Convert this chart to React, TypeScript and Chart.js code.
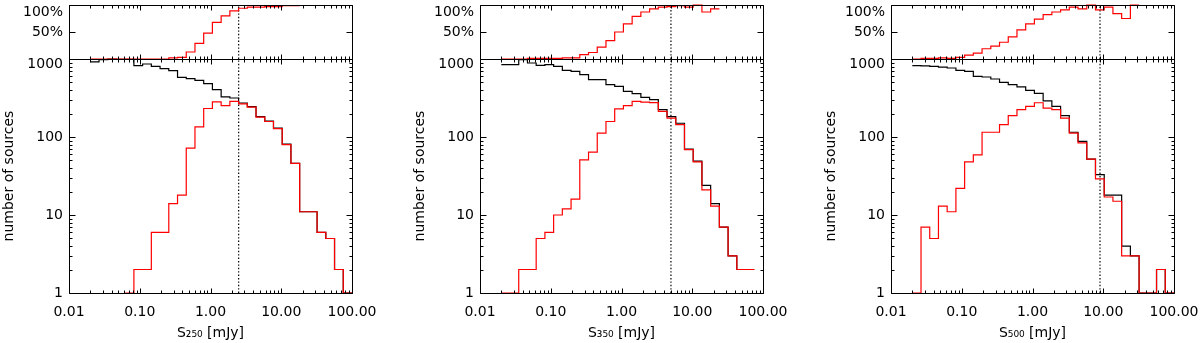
import React, { useEffect, useRef } from 'react';
import { Chart, registerables } from 'chart.js';

Chart.register(...registerables);

const FONT = "'DejaVu Sans', 'Noto Sans', sans-serif";
Chart.defaults.font.family = FONT;
Chart.defaults.color = '#000';

// 30 logarithmic flux bins from 0.02 to 100 mJy (edges)
const BIN_EDGES = [
  0.02, 0.02656, 0.03528, 0.04686, 0.06224, 0.08267, 0.1098, 0.1458, 0.1937, 0.2573,
  0.342, 0.4542, 0.6032, 0.8012, 1.064, 1.414, 1.878, 2.495, 3.314, 4.401,
  5.848, 7.767, 10.32, 13.7, 18.2, 24.18, 32.11, 42.65, 56.65, 75.24, 100,
];

const X_TICKS = [0.01, 0.1, 1, 10, 100];
const Y_TICKS = [1, 10, 100, 1000];
const PCT_TICKS = [50, 100];

const BANDS = ['250', '350', '500'];
const X_TITLES = ['S\u2082\u2085\u2080 [mJy]', 'S\u2083\u2085\u2080 [mJy]', 'S\u2085\u2080\u2080 [mJy]'];
const CUTS = [2.5, 5.0, 9.0];

// 250 micron
const ALL_250 = [920, 980, 995, 990, 990, 821, 863, 804, 751, 708, 582, 559, 532, 482, 404, 326, 316, 273, 245, 183, 160, 130, 81, 46, 11, 11, 6, 5, 2, 1];
const DET_250 = [null, null, null, null, 1, 2, 2, 6, 6, 14, 18, 72, 135, 232, 282, 252, 286, 266, 242, 180, 158, 128, 80, 46, 11, 11, 6, 5, 2, 1];
const COMP_250 = [0, 0, 0, 0, 0, 0, 0, 0, 0, 2, 3, 13, 29, 48, 68, 80, 89, 94, 96, 96, 97, 97, 99, 99];

// 350 micron
const ALL_350 = [845, 845, 980, 889, 828, 845, 804, 715, 694, 629, 543, 543, 469, 446, 384, 359, 322, 301, 225, 182, 150, 70, 49, 24, 14, 7, 3, 2, 2];
const DET_350 = [1, 1, 2, 2, 5, 6, 10, 12, 16, 51, 64, 112, 158, 229, 252, 286, 280, 276, 213, 175, 144, 69, 48, 21, 13, 7, 3, 2, 2];
const COMP_350 = [0, 0, 0, 1, 1, 1, 1, 2, 2, 8, 12, 22, 34, 50, 65, 79, 87, 93, 96, 97, 99, 96, 100, 87, 93];

// 500 micron
const ALL_500 = [820, 815, 804, 789, 767, 714, 694, 598, 588, 554, 501, 469, 438, 396, 362, 290, 247, 188, 115, 88, 52, 33, 18, 18, 4, 3, 1, 1, 2, 1];
const DET_500 = [1, 7, 5, 13, 11, 22, 48, 59, 115, 115, 144, 188, 224, 247, 275, 235, 224, 175, 112, 84, 52, 29, 17, 15, 3, 3, 1, 1, 2, 1];
const COMP_500 = [0, 1, 1, 2, 1, 3, 7, 11, 19, 24, 31, 41, 54, 65, 74, 82, 87, 91, 96, 93, 100, 91, 96, 84, 75, 100];

const ALL = [ALL_250, ALL_350, ALL_500];
const DET = [DET_250, DET_350, DET_500];
const COMP = [COMP_250, COMP_350, COMP_500];

// layout (pixels)
const PLOT_LEFT = [69, 480, 891];
const PLOT_W = 283;
const AXIS_W = 69;
const RIGHT_PAD = 45;
const RED = '#ff0000';

type Pt = { x: number; y: number | null };

function stepPoints(counts: (number | null)[]): Pt[] {
  const pts: Pt[] = [];
  counts.forEach((c, i) => {
    pts.push({ x: BIN_EDGES[i], y: c });
    if (c !== null && (i === counts.length - 1 || counts[i + 1] === null)) {
      pts.push({ x: BIN_EDGES[i + 1], y: c });
    }
  });
  return pts;
}

function tickList(scale: any): { v: number; major: boolean }[] {
  if (scale.type === 'logarithmic') {
    const lo = Math.round(Math.log10(scale.min));
    const hi = Math.round(Math.log10(scale.max));
    const out: { v: number; major: boolean }[] = [];
    for (let e = lo; e < hi; e++) {
      for (let m = 1; m < 10; m++) out.push({ v: m * Math.pow(10, e), major: m === 1 });
    }
    out.push({ v: Math.pow(10, hi), major: true });
    return out;
  }
  return PCT_TICKS.map((v) => ({ v, major: true }));
}

const frameTicks = {
  id: 'frameTicks',
  afterDraw(chart: any) {
    const { ctx, chartArea: a, scales } = chart;
    const L = Math.round(a.left) + 0.5;
    const R = Math.round(a.right) + 0.5;
    const T = Math.round(a.top) + 0.5;
    const B = Math.round(a.bottom) + 0.5;
    ctx.save();
    ctx.strokeStyle = '#000';
    ctx.lineWidth = 1;
    ctx.beginPath();
    ctx.rect(L, T, R - L, B - T);
    for (const t of tickList(scales.x)) {
      const px = Math.round(scales.x.getPixelForValue(t.v)) + 0.5;
      if (px < L - 0.1 || px > R + 0.1) continue;
      const len = t.major ? 5 : 3;
      ctx.moveTo(px, B);
      ctx.lineTo(px, B - len);
      ctx.moveTo(px, T);
      ctx.lineTo(px, T + len);
    }
    for (const t of tickList(scales.y)) {
      const py = Math.round(scales.y.getPixelForValue(t.v)) + 0.5;
      if (py < T - 0.1 || py > B + 0.1) continue;
      const len = t.major ? 6 : 3;
      ctx.moveTo(L, py);
      ctx.lineTo(L + len, py);
      ctx.moveTo(R, py);
      ctx.lineTo(R - len, py);
    }
    ctx.stroke();
    ctx.restore();
  },
};

function dottedLine(x: number, y0: number, y1: number) {
  return {
    data: [
      { x, y: y0 },
      { x, y: y1 },
    ],
    borderColor: '#000',
    borderWidth: 1.2,
    borderDash: [1.4, 2],
    pointRadius: 0,
    clip: 4,
  };
}

function histDataset(counts: (number | null)[], color: string) {
  return {
    data: stepPoints(counts),
    borderColor: color,
    borderWidth: 1.2,
    stepped: 'before',
    pointRadius: 0,
    spanGaps: false,
    fill: false,
    clip: 4,
  };
}

function topConfig(i: number): any {
  return {
    type: 'line',
    data: {
      datasets: [histDataset(COMP[i], RED), dottedLine(CUTS[i], 0, 100)],
    },
    options: {
      responsive: false,
      animation: false,
      devicePixelRatio: 1,
      layout: { padding: { left: 0, right: RIGHT_PAD, top: 30, bottom: 16 } },
      plugins: { legend: { display: false }, tooltip: { enabled: false } },
      elements: { point: { radius: 0 }, line: { tension: 0 } },
      scales: {
        x: { type: 'logarithmic', min: 0.01, max: 100, display: false },
        y: {
          type: 'linear',
          min: 0,
          max: 100,
          afterBuildTicks: (s: any) => {
            s.ticks = PCT_TICKS.map((v) => ({ value: v }));
          },
          afterFit: (s: any) => {
            s.width = AXIS_W;
          },
          grid: { display: false, drawTicks: false },
          border: { display: false },
          ticks: {
            padding: 6,
            color: '#000',
            font: { family: FONT, size: 14, lineHeight: 1.0 },
            callback: (v: any) => (Number(v) === 100 ? ['', '100%'] : `${v}%`),
          },
        },
      },
    },
    plugins: [frameTicks],
  };
}

function bottomConfig(i: number): any {
  return {
    type: 'line',
    data: {
      datasets: [
        histDataset(DET[i], RED),
        histDataset(ALL[i], '#000'),
        dottedLine(CUTS[i], 1, 1000),
      ],
    },
    options: {
      responsive: false,
      animation: false,
      devicePixelRatio: 1,
      layout: { padding: { left: 0, right: RIGHT_PAD, top: 20, bottom: 0 } },
      plugins: { legend: { display: false }, tooltip: { enabled: false } },
      elements: { point: { radius: 0 }, line: { tension: 0 } },
      scales: {
        x: {
          type: 'logarithmic',
          min: 0.01,
          max: 100,
          afterBuildTicks: (s: any) => {
            s.ticks = X_TICKS.map((v) => ({ value: v }));
          },
          afterFit: (s: any) => {
            s.height = 50;
          },
          grid: { display: false, drawTicks: false },
          border: { display: false },
          ticks: {
            padding: 10.5,
            color: '#000',
            autoSkip: false,
            maxRotation: 0,
            minRotation: 0,
            font: { family: FONT, size: 14 },
            callback: (v: any) => Number(v).toFixed(2),
          },
          title: {
            display: true,
            text: X_TITLES[i],
            color: '#000',
            font: { family: FONT, size: 14 },
            padding: { top: 0, bottom: 1.5 },
          },
        },
        y: {
          type: 'logarithmic',
          min: 1,
          max: 1000,
          afterBuildTicks: (s: any) => {
            s.ticks = Y_TICKS.map((v) => ({ value: v }));
          },
          afterFit: (s: any) => {
            s.width = AXIS_W;
          },
          grid: { display: false, drawTicks: false },
          border: { display: false },
          ticks: {
            padding: 6,
            color: '#000',
            autoSkip: false,
            font: { family: FONT, size: 14, lineHeight: 0.75 },
            callback: (v: any) => (Number(v) === 1000 ? ['', '1000'] : String(Number(v))),
          },
          title: {
            display: true,
            text: 'number of sources',
            color: '#000',
            font: { family: FONT, size: 14 },
            padding: { top: 0.5, bottom: 0 },
          },
        },
      },
    },
    plugins: [frameTicks],
  };
}

function ChartCanvas(props: { left: number; top: number; width: number; height: number; make: () => any }) {
  const ref = useRef<HTMLCanvasElement | null>(null);
  useEffect(() => {
    if (!ref.current) return;
    const chart = new Chart(ref.current, props.make());
    return () => chart.destroy();
  }, []);
  return (
    <canvas
      ref={ref}
      width={props.width}
      height={props.height}
      style={{
        position: 'absolute',
        left: props.left,
        top: props.top,
        width: props.width,
        height: props.height,
      }}
    />
  );
}

export default function App() {
  const canvasW = AXIS_W + PLOT_W + RIGHT_PAD;
  return (
    <div
      style={{
        position: 'absolute',
        left: 0,
        top: 0,
        width: 1200,
        height: 343,
        overflow: 'hidden',
        background: '#fff',
      }}
    >
      {BANDS.map((b, i) => (
        <React.Fragment key={b}>
          <ChartCanvas left={PLOT_LEFT[i] - AXIS_W} top={39} width={canvasW} height={304} make={() => bottomConfig(i)} />
          <ChartCanvas left={PLOT_LEFT[i] - AXIS_W} top={-25} width={canvasW} height={100} make={() => topConfig(i)} />
        </React.Fragment>
      ))}
    </div>
  );
}
